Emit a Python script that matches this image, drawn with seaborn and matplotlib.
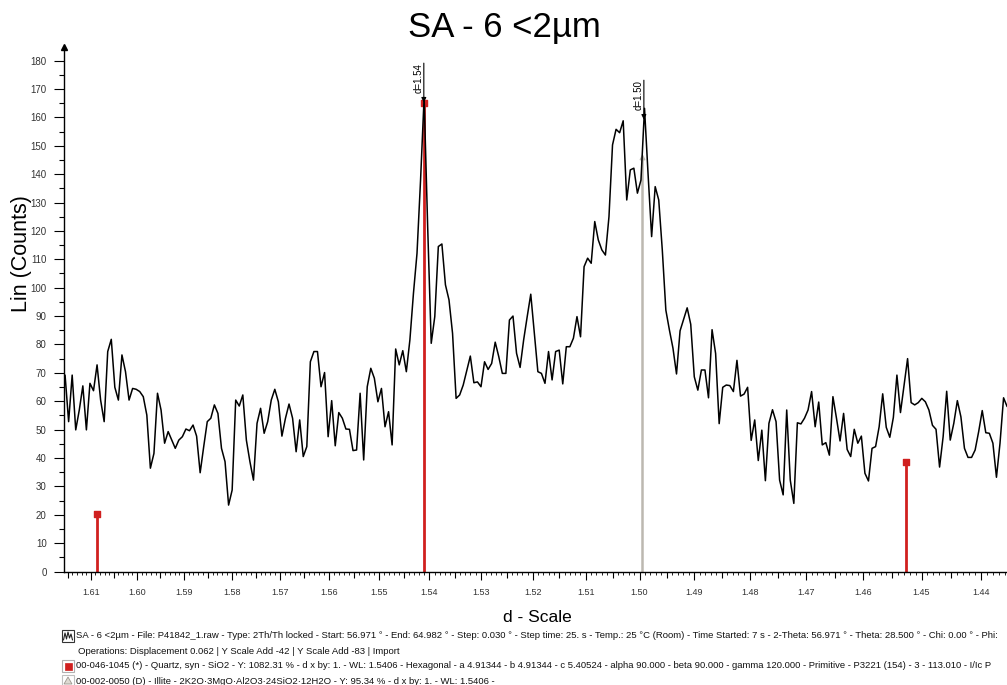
import numpy as np
import matplotlib
matplotlib.use("Agg")
import matplotlib.pyplot as plt
import seaborn as sns
from matplotlib.patches import Rectangle, Polygon
from matplotlib.lines import Line2D
from matplotlib.ticker import FixedLocator, FixedFormatter, MultipleLocator

# ---------------------------------------------------------------- data
WAVELENGTH = 1.5406          # Cu K-alpha, Angstrom
SCAN_START = 56.951          # 2-theta of the first step (displacement applied)
SCAN_STEP = 0.030            # degrees per step

counts = [
    69.2, 52.8, 69.2, 49.9, 56.9, 65.4, 49.9, 66.3, 63.7, 72.8,
    60.4, 52.8, 77.5, 81.8, 64.9, 60.4, 76.3, 70.4, 60.4, 64.5,
    64.2, 63.4, 61.6, 55.1, 36.4, 41.6, 62.8, 56.9, 45.2, 49.3,
    46.3, 43.4, 46.3, 47.5, 50.2, 49.6, 51.6, 47.7, 34.8, 44.0,
    52.8, 54.0, 58.7, 55.7, 43.4, 38.7, 23.4, 28.7, 60.4, 58.3,
    62.2, 46.3, 38.7, 32.2, 52.2, 57.5, 48.7, 52.8, 60.4, 64.2,
    59.8, 47.7, 54.0, 59.0, 54.0, 42.2, 53.4, 40.5, 44.0, 73.9,
    77.5, 77.5, 65.1, 70.1, 47.5, 60.2, 44.3, 56.0, 54.0, 50.2,
    50.1, 42.6, 42.8, 62.8, 39.3, 65.1, 71.6, 68.1, 59.8, 64.5,
    51.0, 56.3, 44.6, 78.4, 72.8, 77.8, 70.4, 81.6, 98.0, 112.1,
    137.9, 167.0, 121.5, 80.4, 89.8, 114.5, 115.4, 101.0, 95.7, 83.9,
    61.0, 62.2, 65.7, 70.8, 75.9, 66.5, 66.8, 65.1, 73.9, 71.2,
    73.3, 80.8, 75.7, 69.8, 69.8, 88.6, 90.0, 76.9, 71.9, 81.6,
    89.8, 97.7, 83.9, 70.4, 69.8, 66.3, 77.5, 67.5, 77.5, 78.0,
    66.1, 79.2, 79.2, 82.2, 89.8, 82.7, 107.4, 110.4, 108.6, 123.3,
    116.8, 113.3, 111.5, 125.0, 150.3, 155.8, 154.6, 158.8, 130.9, 141.5,
    142.1, 133.3, 137.9, 163.2, 140.0, 118.0, 135.6, 130.9, 113.3, 92.1,
    85.1, 78.7, 69.6, 84.8, 88.9, 92.9, 87.1, 68.6, 63.9, 71.0,
    71.0, 61.2, 85.2, 76.8, 52.1, 64.9, 65.7, 65.5, 63.4, 74.4,
    61.8, 62.5, 64.9, 46.2, 53.4, 39.1, 49.8, 32.0, 52.2, 57.0,
    52.8, 32.2, 27.0, 56.9, 32.2, 24.0, 52.4, 52.0, 54.0, 56.9,
    63.4, 51.0, 59.7, 44.6, 45.4, 41.0, 61.6, 54.0, 46.0, 55.7,
    43.0, 40.5, 50.1, 45.2, 47.7, 34.6, 31.9, 43.4, 44.0, 51.0,
    62.6, 50.8, 47.3, 54.3, 69.2, 56.0, 65.5, 75.0, 59.5, 58.7,
    59.5, 61.0, 59.8, 56.9, 51.5, 50.1, 36.8, 47.5, 63.5, 46.3,
    52.2, 60.2, 54.5, 43.4, 40.2, 40.2, 42.8, 49.3, 56.7, 48.9,
    48.7, 45.2, 33.2, 45.2, 61.2, 58.1,
]

tick_labels = ["1.61", "1.60", "1.59", "1.58", "1.57", "1.56", "1.55", "1.54", "1.53",
               "1.52", "1.51", "1.50", "1.49", "1.48", "1.47", "1.46", "1.45", "1.44"]

# reference patterns (stick positions in d, heights in counts)
quartz_d = [1.6086, 1.5411, 1.4527]
quartz_height = [20.3, 165.0, 38.5]
illite_d = [1.4996]
illite_height = [146.0]

# peaks marked with a d-value arrow
marked_peaks_d = [1.5411, 1.4992]

title = "SA - 6 <2µm"
legend_lines = [
    "SA - 6 <2µm - File: P41842_1.raw - Type: 2Th/Th locked - Start: 56.971 ° - End: 64.982 ° - Step: 0.030 ° - Step time: 25. s - Temp.: 25 °C (Room) - Time Started: 7 s - 2-Theta: 56.971 ° - Theta: 28.500 ° - Chi: 0.00 ° - Phi:",
    "Operations: Displacement 0.062 | Y Scale Add -42 | Y Scale Add -83 | Import",
    "00-046-1045 (*) - Quartz, syn - SiO2 - Y: 1082.31 % - d x by: 1. - WL: 1.5406 - Hexagonal - a 4.91344 - b 4.91344 - c 5.40524 - alpha 90.000 - beta 90.000 - gamma 120.000 - Primitive - P3221 (154) - 3 - 113.010 - I/Ic P",
    "00-002-0050 (D) - Illite - 2K2O·3MgO·Al2O3·24SiO2·12H2O - Y: 95.34 % - d x by: 1. - WL: 1.5406 -",
]

# ---------------------------------------------------------------- helpers
def d_to_2theta(d):
    return 2.0 * np.degrees(np.arcsin(WAVELENGTH / (2.0 * np.asarray(d, dtype=float))))

two_theta = SCAN_START + SCAN_STEP * np.arange(len(counts))

W, H = 1007, 685
def fx(px):
    return px / W
def fy(py):
    return 1.0 - py / H

# ---------------------------------------------------------------- figure
sns.set_theme(style="white")
plt.rcParams["font.family"] = ["Liberation Sans", "DejaVu Sans"]

fig = plt.figure(figsize=(W / 100, H / 100), dpi=100)
ax = fig.add_axes([fx(64), fy(571.5), 1 - fx(64), fy(47) - fy(571.5)])

X_LEFT, X_RIGHT = 56.942, 64.900
ax.set_xlim(X_LEFT, X_RIGHT)
ax.set_ylim(0, 184.8)

# reference sticks
ax.vlines(d_to_2theta(illite_d), 0, illite_height, color="#bcb8b0", lw=1.8, zorder=1.5)
ax.scatter(d_to_2theta(illite_d), illite_height, marker="^", s=10, color="#bcb8b0", zorder=1.6)
ax.vlines(d_to_2theta(quartz_d), 0, quartz_height, color="#d0201f", lw=2.0, zorder=1.5)
ax.scatter(d_to_2theta(quartz_d), quartz_height, marker="s", s=14, color="#d0201f", zorder=1.6)

# measured pattern
sns.lineplot(x=two_theta, y=counts, ax=ax, color="black", linewidth=1.1, zorder=3)

# d-value arrows over the marked peaks
for d_pk in marked_peaks_d:
    xp = float(d_to_2theta(d_pk))
    yp = float(np.interp(xp, two_theta, counts))
    ax.annotate("", xy=(xp, yp + 0.6), xytext=(xp, yp + 14.5),
                arrowprops=dict(arrowstyle="-|>", color="black", lw=0.8,
                                mutation_scale=7, shrinkA=0, shrinkB=0),
                annotation_clip=False, zorder=4)
    ax.text(xp - 0.004, yp + 14.5, f"d={d_pk:.2f}", rotation=90, ha="right", va="top",
            fontsize=7, color="black", zorder=4)

# axes styling
for side in ("top", "right"):
    ax.spines[side].set_visible(False)
for side in ("left", "bottom"):
    ax.spines[side].set_color("black")
    ax.spines[side].set_linewidth(1.0)
ax.plot([0], [1], marker="^", markersize=4.5, color="black", transform=ax.transAxes,
        clip_on=False, zorder=5)

# y ticks
ax.set_yticks(np.arange(0, 181, 10))
ax.yaxis.set_minor_locator(MultipleLocator(5))
ax.tick_params(axis="y", which="major", direction="out", length=7.5, width=0.8,
               color="black", labelsize=7, labelcolor="#333333", pad=5, left=True)
ax.tick_params(axis="y", which="minor", direction="out", length=3.8, width=0.8,
               color="black", left=True)

# x ticks in d-spacing on a linear 2-theta axis
major_d = [float(s) for s in tick_labels]
half_d = [round(d + 0.005, 3) for d in major_d]
tick_d = sorted(set(major_d + half_d), reverse=True)
tick_pos = [float(d_to_2theta(d)) for d in tick_d]
keep = [(d, p) for d, p in zip(tick_d, tick_pos) if X_LEFT <= p <= X_RIGHT]
tick_d = [k[0] for k in keep]
tick_pos = [k[1] for k in keep]
tick_txt = [f"{d:.2f}" if any(abs(d - m) < 1e-9 for m in major_d) else "" for d in tick_d]

minor_d = [round(v, 3) for v in np.arange(1.616, 1.433, -0.001)]
minor_pos = [float(d_to_2theta(d)) for d in minor_d
             if all(abs(d - t) > 1e-9 for t in tick_d)]
minor_pos = [p for p in minor_pos if X_LEFT <= p <= X_RIGHT]

ax.xaxis.set_major_locator(FixedLocator(tick_pos))
ax.xaxis.set_major_formatter(FixedFormatter(tick_txt))
ax.xaxis.set_minor_locator(FixedLocator(minor_pos))
ax.tick_params(axis="x", which="major", direction="out", length=6, width=0.8,
               color="black", labelsize=6.5, labelcolor="#333333", pad=6, bottom=True)
ax.tick_params(axis="x", which="minor", direction="out", length=2.4, width=0.6,
               color="black", bottom=True)
for tk, txt in zip(ax.xaxis.get_major_ticks(len(tick_pos)), tick_txt):
    tk.tick1line.set_markersize(6.0 if txt else 4.2)

ax.set_xlabel("")
ax.set_ylabel("")
ax.grid(False)

# titles and axis names
fig.text(0.5005, fy(28), title, fontsize=25, ha="center", va="center", color="black")
fig.text(fx(22), fy(254), "Lin (Counts)", fontsize=15.5, rotation=90,
         ha="center", va="center", color="black")
fig.text(fx(537), fy(618), "d - Scale", fontsize=12.5, ha="center", va="center", color="black")

# ---------------------------------------------------------------- legend block
legend_y = [636, 651, 666, 681]
legend_x = [76, 78, 76, 76]
texts = []
for s, xx, yy in zip(legend_lines, legend_x, legend_y):
    texts.append(fig.text(fx(xx), fy(yy), s, fontsize=6.2, ha="left", va="center",
                          color="#111111"))
fig.canvas.draw()
renderer = fig.canvas.get_renderer()
scale = 924.0 / texts[0].get_window_extent(renderer).width
for t in texts:
    t.set_fontsize(t.get_fontsize() * scale)

def box(x0, y0, x1, y1, ec, fc="white", lw=0.8):
    fig.add_artist(Rectangle((fx(x0), fy(y1)), fx(x1) - fx(x0), fy(y0) - fy(y1),
                             transform=fig.transFigure, ec=ec, fc=fc, lw=lw))

# scan icon
box(62, 630, 74, 642, ec="#333333")
zig_x = [63.5, 65, 66.5, 68, 69.5, 71, 72.5]
zig_y = [640, 633, 639, 632, 638, 634, 640]
fig.add_artist(Line2D([fx(v) for v in zig_x], [fy(v) for v in zig_y],
                      transform=fig.transFigure, color="#222222", lw=0.8))
# quartz icon
box(62, 660, 74, 672, ec="#b0b0b0")
box(64.5, 662.5, 71.5, 669.5, ec="#d0201f", fc="#d0201f", lw=0.5)
# illite icon
box(62, 675, 74, 686, ec="#c0c0c0")
fig.add_artist(Polygon([(fx(64), fy(684)), (fx(72), fy(684)), (fx(68), fy(677))],
                       closed=True, transform=fig.transFigure, ec="#9a968e", fc="#dedad2", lw=0.6))

fig.savefig("out.png", dpi=100, facecolor="white")
